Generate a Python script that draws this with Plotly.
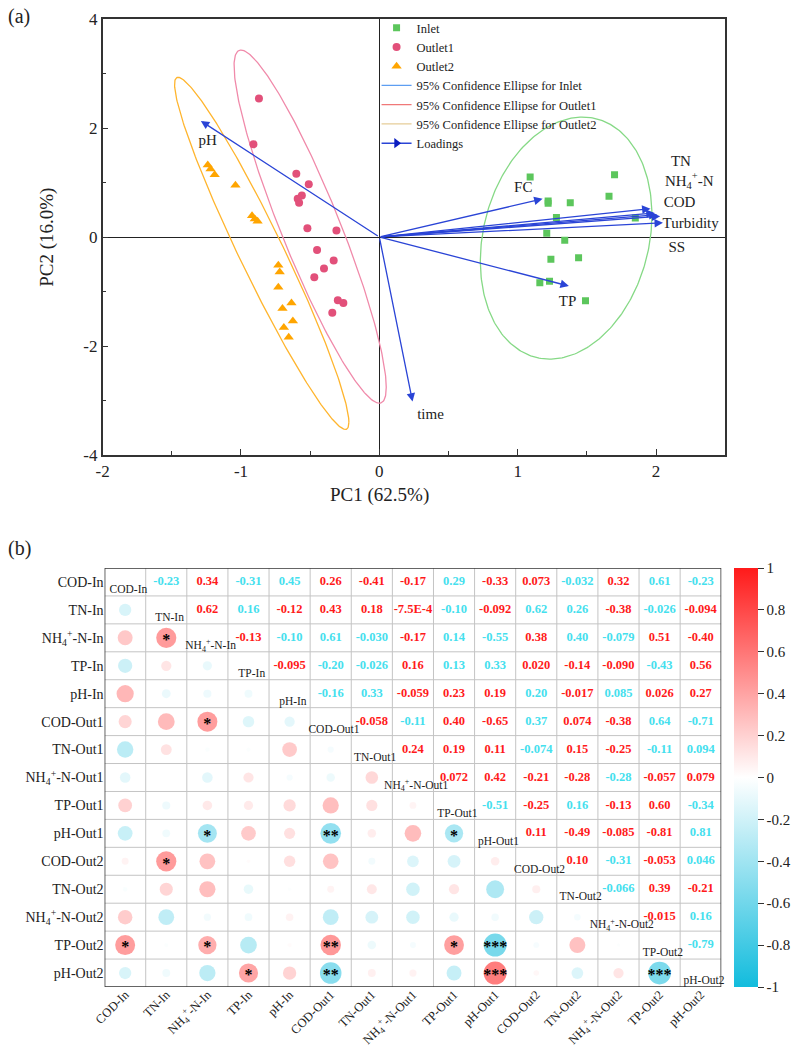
import numpy as np
import plotly.graph_objects as go

FONT = "Liberation Serif"
W, H = 791, 1047

# ---------------- (a) PCA biplot data ----------------
inlet_pc1 = [1.09, 1.70, 1.22, 1.22, 1.38, 1.66, 1.28, 1.85, 1.21, 1.34, 1.24, 1.44, 1.16, 1.23, 1.49]
inlet_pc2 = [1.10, 1.14, 0.66, 0.62, 0.63, 0.75, 0.36, 0.35, 0.07, -0.06, -0.41, -0.38, -0.84, -0.81, -1.17]
out1_pc1 = [-0.87, -0.91, -0.60, -0.51, -0.56, -0.59, -0.58, -0.52, -0.31, -0.45, -0.33, -0.40, -0.47, -0.30, -0.26, -0.34]
out1_pc2 = [2.54, 1.70, 1.16, 0.97, 0.76, 0.70, 0.63, 0.16, 0.12, -0.24, -0.43, -0.58, -0.74, -1.16, -1.21, -1.39]
out2_pc1 = [-1.24, -1.22, -1.19, -1.04, -0.92, -0.90, -0.88, -0.73, -0.72, -0.73, -0.70, -0.635, -0.625, -0.69, -0.655]
out2_pc2 = [1.32, 1.25, 1.14, 0.95, 0.39, 0.33, 0.29, -0.52, -0.64, -0.92, -1.31, -1.21, -1.54, -1.66, -1.84]

# 95% confidence ellipses (centre, half-extent in x / y, phase of tilt)
ell_names = ["Inlet", "Outlet1", "Outlet2"]
ell_cx = [1.35, -0.50, -0.85]
ell_cy = [-0.02, 0.19, -0.30]
ell_rx = [0.62, 0.55, 0.63]
ell_ry = [2.22, 3.24, 3.23]
ell_phase = [1.38, 2.713, 2.857]

# loadings
load_names = ["pH", "time", "FC", "TN", "NH<sub>4</sub><sup>+</sup>-N", "COD", "Turbidity", "SS", "TP"]
load_pc1 = [-1.29, 0.24, 1.18, 1.96, 1.99, 2.01, 2.05, 2.03, 1.37]
load_pc2 = [2.13, -3.02, 0.70, 0.52, 0.44, 0.41, 0.26, 0.38, -0.90]
label_pc1 = [-1.24, 0.37, 1.04, 2.18, 2.24, 2.17, 2.25, 2.15, 1.36]
label_pc2 = [1.75, -3.27, 0.89, 1.38, 1.01, 0.62, 0.24, -0.21, -1.20]

pc1_ticks = [-2, -1, 0, 1, 2]
pc2_ticks = [-4, -2, 0, 2, 4]

# ---------------- (b) correlation matrix data ----------------
var_labels = ["COD-In", "TN-In", "NH<sub>4</sub><sup>+</sup>-N-In", "TP-In", "pH-In",
              "COD-Out1", "TN-Out1", "NH<sub>4</sub><sup>+</sup>-N-Out1", "TP-Out1", "pH-Out1",
              "COD-Out2", "TN-Out2", "NH<sub>4</sub><sup>+</sup>-N-Out2", "TP-Out2", "pH-Out2"]
upper_text = [
    ["-0.23", "0.34", "-0.31", "0.45", "0.26", "-0.41", "-0.17", "0.29", "-0.33", "0.073", "-0.032", "0.32", "0.61", "-0.23"],
    ["0.62", "0.16", "-0.12", "0.43", "0.18", "-7.5E-4", "-0.10", "-0.092", "0.62", "0.26", "-0.38", "-0.026", "-0.094"],
    ["-0.13", "-0.10", "0.61", "-0.030", "-0.17", "0.14", "-0.55", "0.38", "0.40", "-0.079", "0.51", "-0.40"],
    ["-0.095", "-0.20", "-0.026", "0.16", "0.13", "0.33", "0.020", "-0.14", "-0.090", "-0.43", "0.56"],
    ["-0.16", "0.33", "-0.059", "0.23", "0.19", "0.20", "-0.017", "0.085", "0.026", "0.27"],
    ["-0.058", "-0.11", "0.40", "-0.65", "0.37", "0.074", "-0.38", "0.64", "-0.71"],
    ["0.24", "0.19", "0.11", "-0.074", "0.15", "-0.25", "-0.11", "0.094"],
    ["0.072", "0.42", "-0.21", "-0.28", "-0.28", "-0.057", "0.079"],
    ["-0.51", "-0.25", "0.16", "-0.13", "0.60", "-0.34"],
    ["0.11", "-0.49", "-0.085", "-0.81", "0.81"],
    ["0.10", "-0.31", "-0.053", "0.046"],
    ["-0.066", "0.39", "-0.21"],
    ["-0.015", "0.16"],
    ["-0.79"],
]
upper_color = ["CRCCRRRCRRCRCC", "RCRRRRCRCCRCR", "RCCCRCCRCCRR", "RCCRCCRRRCR",
               "CCRRRCRCRR", "RCRRCRRCC", "RRRCRRCC", "RRRRCRR", "CRCRRC",
               "RRRRC", "RCRC", "CRR", "RC", "C"]
star_rows = [2, 5, 9, 9, 9, 10, 13, 13, 13, 13, 13, 14, 14, 14, 14]
star_cols = [1, 2, 2, 5, 8, 1, 0, 2, 5, 8, 9, 3, 5, 9, 13]
star_text = ["*", "*", "*", "**", "*", "*", "*", "*", "**", "*", "***", "*", "**", "***", "***"]
cbar_ticks = [1, 0.8, 0.6, 0.4, 0.2, 0, -0.2, -0.4, -0.6, -0.8, -1]

# ---------------- figure ----------------
fig = go.Figure()

ell_colors = ["#86D986", "#F08AAA", "#FFB52E"]
t = np.linspace(0, 2 * np.pi, 300)
for k in range(3):
    ex = ell_cx[k] + ell_rx[k] * np.cos(t)
    ey = ell_cy[k] + ell_ry[k] * np.cos(t + ell_phase[k])
    fig.add_trace(go.Scatter(x=ex, y=ey, mode="lines", line=dict(color=ell_colors[k], width=1.3),
                             showlegend=False, hoverinfo="skip"))

fig.add_trace(go.Scatter(x=inlet_pc1, y=inlet_pc2, mode="markers", name="Inlet",
                         marker=dict(symbol="square", size=7, color="#5CC65C")))
fig.add_trace(go.Scatter(x=out1_pc1, y=out1_pc2, mode="markers", name="Outlet1",
                         marker=dict(symbol="circle", size=8, color="#E2507A")))
fig.add_trace(go.Scatter(x=out2_pc1, y=out2_pc2, mode="markers", name="Outlet2",
                         marker=dict(symbol="triangle-up", size=9, color="#FFA500")))
leg_line_colors = ["#5E9EF2", "#F07878", "#E6CD98"]
for k in range(3):
    fig.add_trace(go.Scatter(x=[None], y=[None], mode="lines",
                             name="95% Confidence Ellipse for " + ell_names[k],
                             line=dict(color=leg_line_colors[k], width=1.3)))
fig.add_trace(go.Scatter(x=[None], y=[None], mode="lines+markers", name="Loadings",
                         line=dict(color="#2A44D6", width=1.5),
                         marker=dict(symbol="triangle-right", size=9, color="#0A1CC0")))

fig.add_trace(go.Scatter(x=label_pc1, y=label_pc2, mode="text", text=load_names,
                         textfont=dict(family=FONT, size=15, color="#222"), cliponaxis=False,
                         showlegend=False, hoverinfo="skip"))

annotations = []
for i in range(len(load_names)):
    annotations.append(dict(x=load_pc1[i], y=load_pc2[i], ax=0, ay=0, xref="x", yref="y",
                            axref="x", ayref="y", text="", showarrow=True, arrowhead=2,
                            arrowsize=1.3, arrowwidth=1.3, arrowcolor="#2A44D6", standoff=0))

# ---------------- (b) matrix ----------------
n = len(var_labels)
R = np.eye(n)
for i in range(n - 1):
    for j in range(i + 1, n):
        v = float(upper_text[i][j - i - 1])
        R[i, j] = v
        R[j, i] = v

lx, ly, lv = [], [], []
for i in range(n):
    for j in range(i):
        lx.append(j); ly.append(i); lv.append(R[i, j])
lv = np.array(lv)
cscale = [[0, "#12BCDD"], [0.5, "#FFFFFF"], [1, "#FF1A1A"]]
fig.add_trace(go.Scatter(
    x=lx, y=ly, mode="markers", xaxis="x2", yaxis="y2", showlegend=False, hoverinfo="skip",
    marker=dict(size=25.6 * np.sqrt(np.abs(lv)), color=lv, colorscale=cscale, cmin=-1, cmax=1,
                line=dict(width=0), showscale=True,
                colorbar=dict(x=737 / W, xanchor="left", xpad=0, ypad=0,
                              y=1 - (568 + 987) / 2 / H, yanchor="middle",
                              len=(987 - 568) / H, lenmode="fraction", thickness=24,
                              tickvals=cbar_ticks, ticktext=[str(v) for v in cbar_ticks],
                              ticks="outside", ticklen=6, tickcolor="#333",
                              tickfont=dict(family=FONT, size=15, color="#222"),
                              outlinewidth=0))))

fig.add_trace(go.Scatter(x=star_cols, y=[r + 0.12 for r in star_rows], mode="text", text=star_text,
                         xaxis="x2", yaxis="y2", showlegend=False, hoverinfo="skip",
                         textfont=dict(family=FONT, size=16, color="#000", weight="bold")))

ux, uy, ut, uc = [], [], [], []
for i in range(n - 1):
    for j in range(i + 1, n):
        ux.append(j); uy.append(i); ut.append(upper_text[i][j - i - 1])
        uc.append("#FF1A1A" if upper_color[i][j - i - 1] == "R" else "#45E0EE")
fig.add_trace(go.Scatter(x=ux, y=uy, mode="text", text=ut, xaxis="x2", yaxis="y2",
                         showlegend=False, hoverinfo="skip", cliponaxis=False,
                         textfont=dict(family=FONT, size=12.5, color=uc, weight="bold")))

fig.add_trace(go.Scatter(x=[i + 0.08 for i in range(n)], y=[i + 0.3 for i in range(n)], mode="text",
                         text=var_labels, xaxis="x2", yaxis="y2", showlegend=False, hoverinfo="skip",
                         cliponaxis=False,
                         textfont=dict(family=FONT, size=11.5, color="#222")))

shapes = []
for k in range(1, n):
    shapes.append(dict(type="line", xref="x2", yref="y2", x0=k - 0.5, x1=k - 0.5, y0=-0.5, y1=n - 0.5,
                       line=dict(color="#C4C4C4", width=1), layer="below"))
    shapes.append(dict(type="line", xref="x2", yref="y2", y0=k - 0.5, y1=k - 0.5, x0=-0.5, x1=n - 0.5,
                       line=dict(color="#C4C4C4", width=1), layer="below"))
shapes.append(dict(type="rect", xref="x2", yref="y2", x0=-0.5, x1=n - 0.5, y0=-0.5, y1=n - 0.5,
                   line=dict(color="#333", width=1.5)))

annotations += [
    dict(text="(a)", x=6 / W, y=1 - 16 / H, xref="paper", yref="paper", showarrow=False,
         xanchor="left", yanchor="middle", font=dict(family=FONT, size=20, color="#222")),
    dict(text="(b)", x=6 / W, y=1 - 548 / H, xref="paper", yref="paper", showarrow=False,
         xanchor="left", yanchor="middle", font=dict(family=FONT, size=20, color="#222")),
    dict(text="PC1 (62.5%)", x=381 / W, y=1 - 495 / H, xref="paper", yref="paper", showarrow=False,
         xanchor="center", yanchor="middle", font=dict(family=FONT, size=19, color="#222")),
    dict(text="PC2 (16.0%)", x=47 / W, y=1 - 237 / H, xref="paper", yref="paper", showarrow=False,
         textangle=-90, xanchor="center", yanchor="middle", font=dict(family=FONT, size=19, color="#222")),
]

axis_common = dict(showline=True, linecolor="#333", linewidth=1.5, mirror=True, showgrid=False,
                   ticks="inside", ticklen=6, tickcolor="#333", automargin=False,
                   tickfont=dict(family=FONT, size=17, color="#222"))

fig.update_layout(
    width=W, height=H, margin=dict(l=0, r=0, t=0, b=0, pad=0),
    paper_bgcolor="white", plot_bgcolor="white",
    font=dict(family=FONT),
    xaxis=dict(domain=[103 / W, 728 / W], range=[-2, 2.5], tickvals=pc1_ticks,
               ticktext=[str(v) for v in pc1_ticks],
               zeroline=True, zerolinecolor="#222", zerolinewidth=1,
               minor=dict(dtick=0.5, ticks="inside", ticklen=4, tickcolor="#333"),
               anchor="y", **axis_common),
    yaxis=dict(domain=[1 - 455 / H, 1 - 19 / H], range=[-4, 4], tickvals=pc2_ticks,
               ticktext=[str(v) for v in pc2_ticks],
               zeroline=True, zerolinecolor="#222", zerolinewidth=1,
               minor=dict(dtick=1, ticks="inside", ticklen=4, tickcolor="#333"),
               anchor="x", **axis_common),
    xaxis2=dict(domain=[105 / W, 724 / W], range=[-0.5, n - 0.5], anchor="y2",
                tickvals=list(range(n)), ticktext=var_labels, tickangle=-45, automargin=False,
                showgrid=False, zeroline=False, showline=False, ticks="", ticklabelstandoff=-3,
                tickfont=dict(family=FONT, size=12.5, color="#222")),
    yaxis2=dict(domain=[1 - 987 / H, 1 - 568 / H], range=[n - 0.5, -0.5], anchor="x2",
                tickvals=list(range(n)), ticktext=var_labels, automargin=False,
                showgrid=False, zeroline=False, showline=False, ticks="",
                tickfont=dict(family=FONT, size=14, color="#222")),
    legend=dict(x=378 / W, y=1 - 13 / H, xanchor="left", yanchor="top", bgcolor="rgba(0,0,0,0)",
                font=dict(family=FONT, size=12.5, color="#222"), tracegroupgap=0, itemwidth=30),
    shapes=shapes, annotations=annotations,
)

fig.write_html("out.html")
